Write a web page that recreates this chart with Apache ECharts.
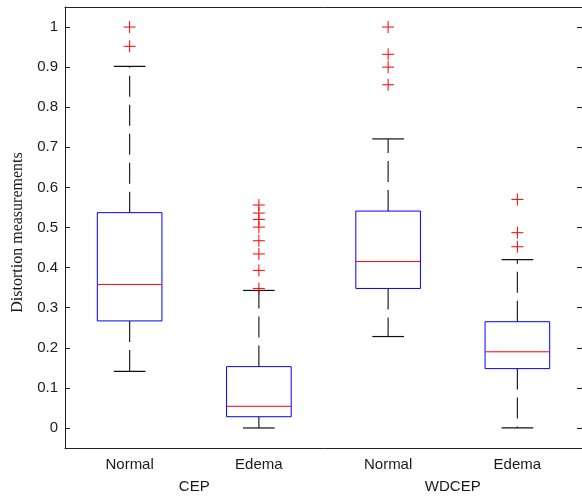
<!DOCTYPE html>
<html>
<head>
<meta charset="utf-8">
<script src="https://cdn.jsdelivr.net/npm/echarts@6/dist/echarts.min.js"></script>
<style>
  html, body { margin: 0; padding: 0; background: #fff; }
  #chart { width: 582px; height: 497px; }
</style>
</head>
<body>
<div id="chart"></div>
<script>
// categories under each box, and the group names under each pair
const categories = ["Normal", "Edema", "Normal", "Edema"];
const groups = ["CEP", "WDCEP"];
const yTicks = [0, 0.1, 0.2, 0.3, 0.4, 0.5, 0.6, 0.7, 0.8, 0.9, 1];

// box stats: [lower whisker, q1, median, q3, upper whisker]
const cepNormal = [0.141, 0.267, 0.358, 0.537, 0.902];
const cepEdema = [0.0, 0.028, 0.054, 0.153, 0.343];
const wdcepNormal = [0.228, 0.348, 0.415, 0.541, 0.721];
const wdcepEdema = [0.0, 0.148, 0.19, 0.265, 0.42];

// outliers
const cepNormalOut = [1.0, 0.952];
const cepEdemaOut = [0.556, 0.536, 0.52, 0.501, 0.467, 0.434, 0.393, 0.348];
const wdcepNormalOut = [1.0, 0.932, 0.9, 0.856];
const wdcepEdemaOut = [0.57, 0.487, 0.452];

const boxes = [cepNormal, cepEdema, wdcepNormal, wdcepEdema];
const outliers = [cepNormalOut, cepEdemaOut, wdcepNormalOut, wdcepEdemaOut];

const boxData = boxes.map((b, i) => [i + 1].concat(b));
const outData = [];
outliers.forEach((list, i) => {
  list.forEach((v) => outData.push([i + 1, v]));
});

const chart = echarts.init(document.getElementById("chart"));

function renderBox(params, api) {
  const x = api.value(0);
  const low = api.coord([x, api.value(1)]);
  const q1 = api.coord([x, api.value(2)]);
  const med = api.coord([x, api.value(3)]);
  const q3 = api.coord([x, api.value(4)]);
  const high = api.coord([x, api.value(5)]);
  const band = api.size([1, 0])[0];
  const bw = band * 0.5;
  const cw = band * 0.245;
  const cx = q1[0];
  const dash = { stroke: "#222", lineWidth: 1.2, lineDash: [21, 8] };
  const solid = { stroke: "#111", lineWidth: 1.2 };
  return {
    type: "group",
    children: [
      { type: "line", shape: { x1: cx, y1: q3[1], x2: cx, y2: high[1] }, style: dash },
      { type: "line", shape: { x1: cx, y1: q1[1], x2: cx, y2: low[1] }, style: dash },
      { type: "line", shape: { x1: cx - cw / 2, y1: high[1], x2: cx + cw / 2, y2: high[1] }, style: solid },
      { type: "line", shape: { x1: cx - cw / 2, y1: low[1], x2: cx + cw / 2, y2: low[1] }, style: solid },
      {
        type: "rect",
        shape: { x: cx - bw / 2, y: q3[1], width: bw, height: q1[1] - q3[1] },
        style: { fill: "none", stroke: "#0000ff", lineWidth: 1 },
      },
      { type: "line", shape: { x1: cx - bw / 2, y1: med[1], x2: cx + bw / 2, y2: med[1] }, style: { stroke: "#ff0000", lineWidth: 1 } },
    ],
  };
}

const labelColor = "#1a1a1a";
const spine = { show: true, onZero: false, lineStyle: { color: "#222", width: 1 } };

const option = {
  animation: false,
  grid: {
    left: 65,
    width: 519,
    top: 7,
    height: 441,
  },
  xAxis: [
    {
      type: "value",
      min: 0.5,
      max: 4.5,
      axisLine: spine,
      axisTick: { show: false },
      splitLine: { show: false },
      axisLabel: {
        customValues: [1, 2, 3, 4],
        formatter: (v) => categories[Math.round(v) - 1],
        fontFamily: "Liberation Sans, Arial, sans-serif",
        fontSize: 15,
        color: labelColor,
        margin: 9,
      },
    },
    {
      type: "value",
      min: 0.5,
      max: 4.5,
      position: "bottom",
      axisLine: { show: false, onZero: false },
      axisTick: { show: false },
      splitLine: { show: false },
      axisLabel: {
        customValues: [1.5, 3.5],
        formatter: (v) => groups[v < 2.5 ? 0 : 1],
        fontFamily: "Liberation Sans, Arial, sans-serif",
        fontSize: 15,
        color: labelColor,
        margin: 31,
      },
    },
    {
      type: "value",
      min: 0.5,
      max: 4.5,
      position: "top",
      axisLine: spine,
      axisTick: { show: false },
      splitLine: { show: false },
      axisLabel: { show: false },
    },
  ],
  yAxis: [
    {
      type: "value",
      min: -0.05,
      max: 1.05,
      name: "Distortion measurements",
      nameLocation: "middle",
      nameGap: 33,
      nameTextStyle: {
        fontFamily: "Liberation Serif, Times New Roman, serif",
        fontSize: 16,
        color: labelColor,
        padding: [0, 10, 0, 0],
      },
      axisLine: spine,
      splitLine: { show: false },
      axisTick: {
        inside: true,
        length: 5,
        customValues: yTicks,
        lineStyle: { color: "#222" },
      },
      axisLabel: {
        customValues: yTicks,
        formatter: (v) => String(Math.round(v * 10) / 10),
        fontFamily: "Liberation Sans, Arial, sans-serif",
        fontSize: 15,
        color: labelColor,
        margin: 7,
      },
    },
    {
      type: "value",
      min: -0.05,
      max: 1.05,
      position: "right",
      axisLine: { show: false, onZero: false },
      splitLine: { show: false },
      axisLabel: { show: false },
      axisTick: {
        inside: true,
        length: 5,
        customValues: yTicks,
        lineStyle: { color: "#222" },
      },
    },
  ],
  series: [
    {
      type: "custom",
      renderItem: renderBox,
      data: boxData,
      encode: { x: 0, y: [1, 2, 3, 4, 5] },
    },
    {
      type: "scatter",
      data: outData,
      symbol: "path://M0,6H12M6,0V12",
      symbolSize: 12,
      itemStyle: { color: "none", borderColor: "#ff0000", borderWidth: 1, opacity: 1 },
    },
  ],
};

chart.setOption(option);
</script>
</body>
</html>
